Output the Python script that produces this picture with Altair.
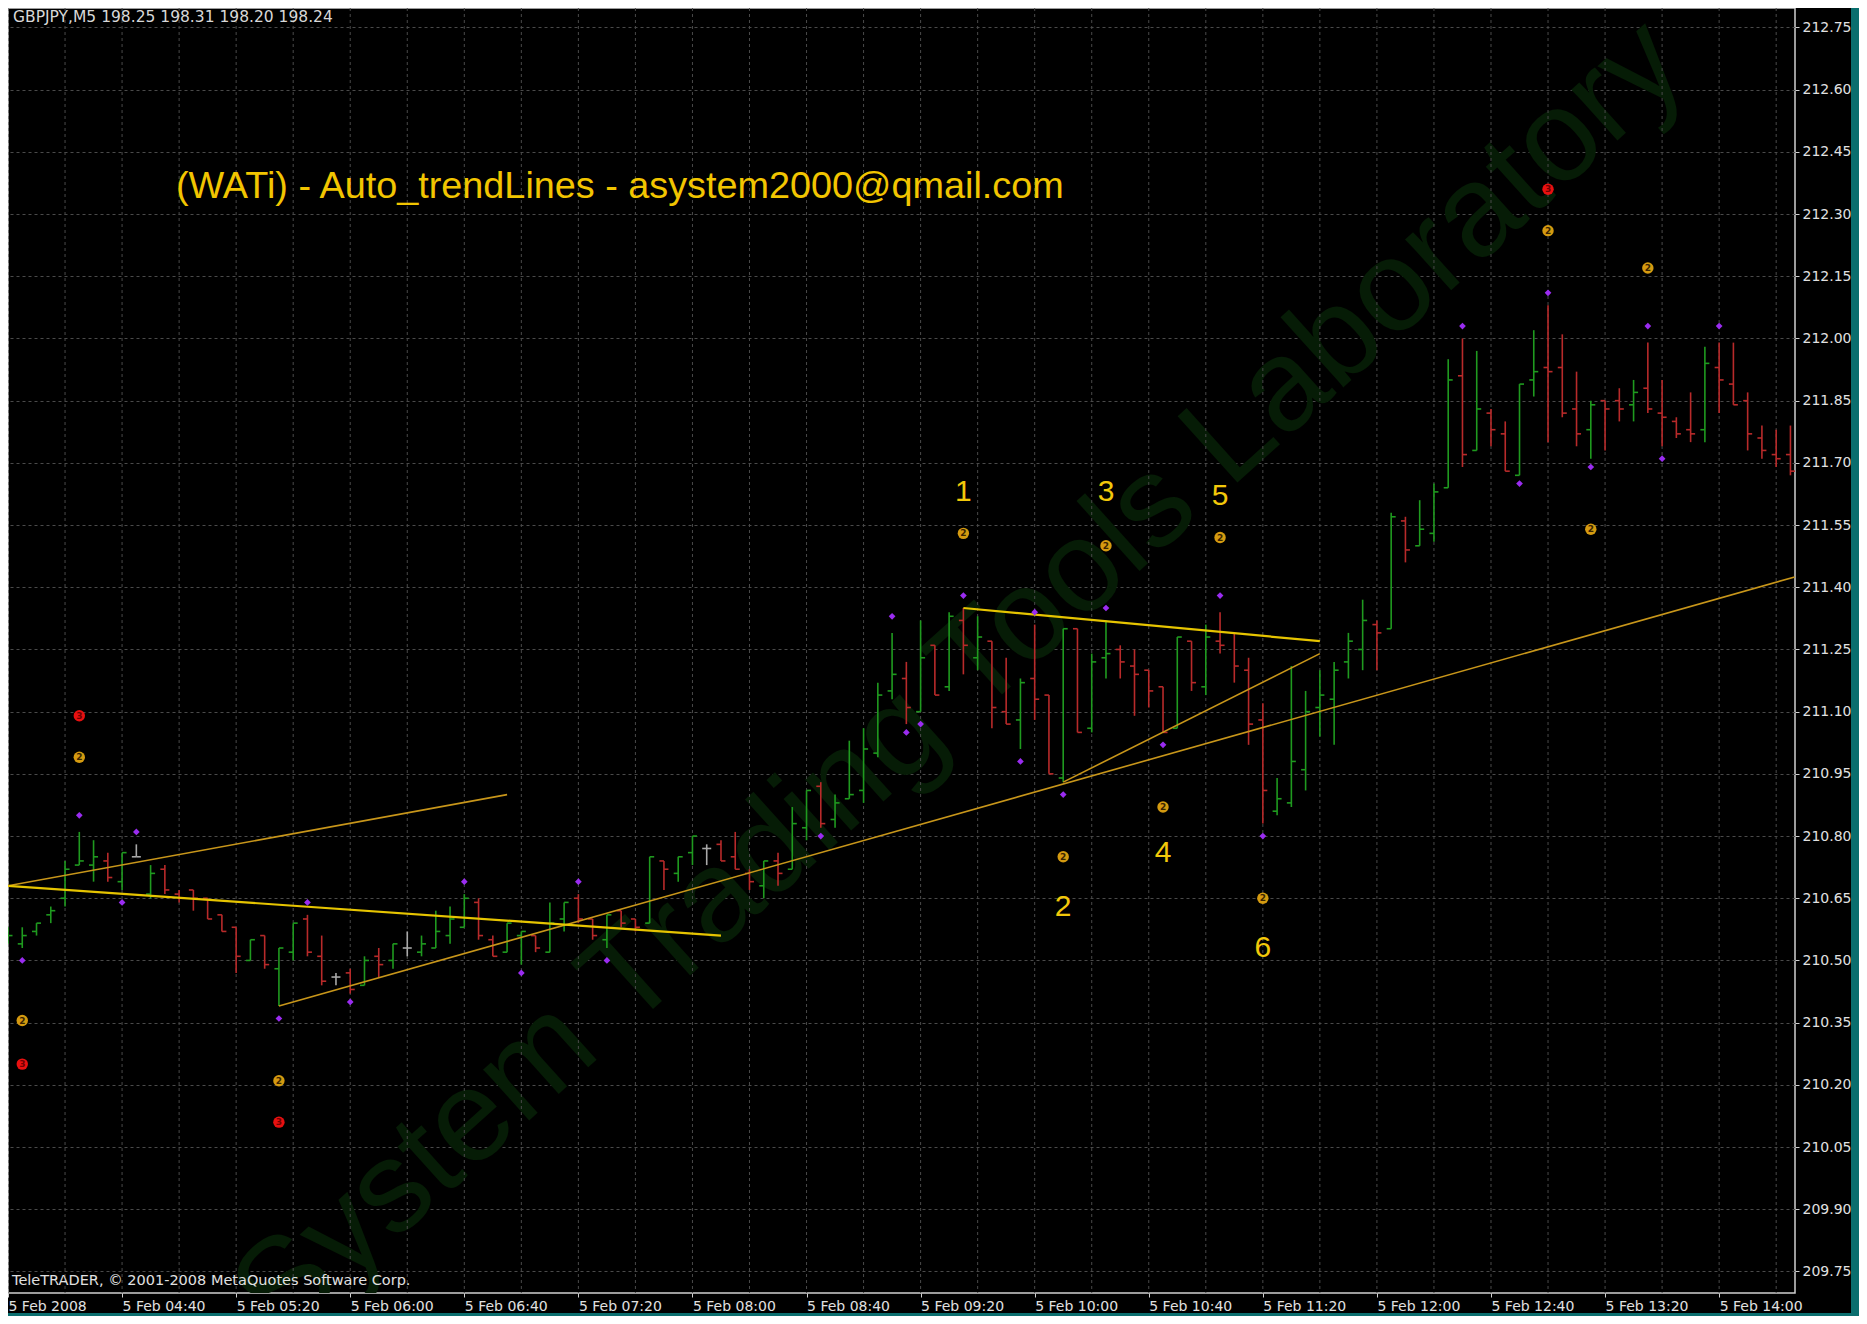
import altair as alt
import pandas as pd
import numpy as np

# ---------------- data (GBPJPY M5, 5 Feb 2008 04:00 .. 14:25) ----------------
open_ = [210.55, 210.54, 210.57, 210.61, 210.65, 210.73, 210.73, 210.74, 210.69, 210.75,
         210.66, 210.72, 210.66, 210.67, 210.65, 210.61, 210.58, 210.50, 210.56, 210.48,
         210.52, 210.60, 210.51, 210.46, 210.47, 210.44, 210.51, 210.50, 210.53, 210.52,
         210.53, 210.56, 210.58, 210.64, 210.55, 210.52, 210.56, 210.56, 210.52, 210.60,
         210.65, 210.60, 210.55, 210.62, 210.60, 210.59, 210.74, 210.71, 210.76, 210.77,
         210.78, 210.75, 210.71, 210.68, 210.74, 210.72, 210.82, 210.92, 210.84, 210.89,
         210.91, 211.00, 211.15, 211.18, 211.10, 211.26, 211.16, 211.32, 211.23, 211.27,
         211.10, 211.08, 211.18, 211.14, 210.94, 211.30, 211.06, 211.23, 211.25, 211.21,
         211.20, 211.16, 211.06, 211.27, 211.16, 211.27, 211.29, 211.20, 211.08, 210.86,
         210.88, 210.96, 211.11, 211.13, 211.22, 211.25, 211.31, 211.30, 211.56, 211.50,
         211.53, 211.64, 211.91, 211.73, 211.82, 211.77, 211.67, 211.90, 211.93, 211.93,
         211.83, 211.78, 211.85, 211.85, 211.84, 211.88, 211.82, 211.80, 211.78, 211.78,
         211.93, 211.89, 211.85, 211.76, 211.72, 211.72]
high = [210.58, 210.58, 210.59, 210.63, 210.74, 210.81, 210.79, 210.76, 210.76, 210.78,
        210.73, 210.73, 210.67, 210.67, 210.65, 210.61, 210.58, 210.55, 210.56, 210.53,
        210.59, 210.61, 210.56, 210.47, 210.48, 210.51, 210.53, 210.54, 210.57, 210.56,
        210.62, 210.63, 210.66, 210.65, 210.56, 210.59, 210.57, 210.56, 210.64, 210.64,
        210.66, 210.60, 210.61, 210.62, 210.60, 210.75, 210.74, 210.75, 210.80, 210.78,
        210.79, 210.81, 210.72, 210.74, 210.76, 210.87, 210.91, 210.93, 210.90, 211.03,
        211.06, 211.17, 211.29, 211.22, 211.32, 211.26, 211.34, 211.35, 211.33, 211.27,
        211.23, 211.18, 211.31, 211.14, 211.30, 211.30, 211.24, 211.32, 211.26, 211.25,
        211.20, 211.16, 211.28, 211.27, 211.31, 211.34, 211.29, 211.23, 211.12, 210.94,
        211.21, 211.15, 211.20, 211.22, 211.29, 211.37, 211.32, 211.58, 211.57, 211.61,
        211.65, 211.95, 212.00, 211.97, 211.83, 211.80, 211.89, 212.02, 212.08, 212.01,
        211.92, 211.85, 211.85, 211.88, 211.90, 211.99, 211.90, 211.81, 211.87, 211.98,
        211.99, 211.99, 211.87, 211.79, 211.78, 211.79]
low = [210.54, 210.53, 210.56, 210.59, 210.63, 210.73, 210.69, 210.69, 210.67, 210.75,
       210.65, 210.66, 210.64, 210.62, 210.60, 210.57, 210.47, 210.50, 210.48, 210.39,
       210.50, 210.51, 210.44, 210.44, 210.42, 210.44, 210.46, 210.48, 210.51, 210.51,
       210.53, 210.54, 210.58, 210.55, 210.51, 210.52, 210.49, 210.52, 210.52, 210.57,
       210.59, 210.55, 210.53, 210.58, 210.57, 210.59, 210.67, 210.69, 210.73, 210.73,
       210.74, 210.72, 210.67, 210.65, 210.68, 210.72, 210.79, 210.82, 210.82, 210.89,
       210.88, 210.99, 211.13, 211.07, 211.10, 211.14, 211.15, 211.19, 211.20, 211.06,
       211.07, 211.01, 211.08, 210.95, 210.93, 211.05, 211.05, 211.18, 211.18, 211.09,
       211.11, 211.05, 211.06, 211.15, 211.14, 211.24, 211.17, 211.02, 210.83, 210.85,
       210.87, 210.91, 211.04, 211.02, 211.18, 211.20, 211.20, 211.30, 211.46, 211.50,
       211.51, 211.64, 211.69, 211.73, 211.74, 211.68, 211.67, 211.86, 211.75, 211.81,
       211.74, 211.71, 211.73, 211.80, 211.80, 211.82, 211.74, 211.76, 211.75, 211.75,
       211.82, 211.84, 211.73, 211.71, 211.69, 211.67]
close = [210.56, 210.56, 210.59, 210.62, 210.72, 210.74, 210.75, 210.70, 210.76, 210.75,
         210.71, 210.67, 210.65, 210.65, 210.60, 210.57, 210.51, 210.55, 210.49, 210.53,
         210.59, 210.52, 210.45, 210.46, 210.43, 210.50, 210.49, 210.54, 210.53, 210.54,
         210.57, 210.60, 210.65, 210.56, 210.51, 210.59, 210.57, 210.53, 210.59, 210.64,
         210.60, 210.56, 210.61, 210.59, 210.58, 210.75, 210.72, 210.75, 210.80, 210.77,
         210.74, 210.72, 210.69, 210.74, 210.71, 210.83, 210.91, 210.83, 210.88, 210.90,
         211.01, 211.14, 211.19, 211.11, 211.23, 211.14, 211.33, 211.26, 211.28, 211.11,
         211.07, 211.17, 211.13, 210.95, 211.30, 211.05, 211.22, 211.24, 211.22, 211.19,
         211.15, 211.05, 211.28, 211.17, 211.28, 211.26, 211.21, 211.07, 210.91, 210.89,
         210.98, 211.10, 211.14, 211.20, 211.27, 211.32, 211.29, 211.57, 211.49, 211.54,
         211.63, 211.90, 211.72, 211.83, 211.78, 211.68, 211.89, 211.92, 211.92, 211.82,
         211.77, 211.84, 211.83, 211.83, 211.87, 211.83, 211.81, 211.77, 211.77, 211.94,
         211.90, 211.84, 211.77, 211.73, 211.71, 211.68]
bar_index = list(range(len(open_)))

y_tick_values = [209.75, 209.90, 210.05, 210.20, 210.35, 210.50, 210.65, 210.80, 210.95, 211.10,
                 211.25, 211.40, 211.55, 211.70, 211.85, 212.00, 212.15, 212.30, 212.45, 212.60, 212.75]
x_tick_bars = [0, 8, 16, 24, 32, 40, 48, 56, 64, 72, 80, 88, 96, 104, 112, 120]
x_tick_labels = ["5 Feb 2008", "5 Feb 04:40", "5 Feb 05:20", "5 Feb 06:00", "5 Feb 06:40",
                 "5 Feb 07:20", "5 Feb 08:00", "5 Feb 08:40", "5 Feb 09:20", "5 Feb 10:00",
                 "5 Feb 10:40", "5 Feb 11:20", "5 Feb 12:00", "5 Feb 12:40", "5 Feb 13:20",
                 "5 Feb 14:00"]
grid_bars = list(range(0, 126, 4))

fractal_bar = [1, 5, 8, 9, 19, 21, 24, 32, 36, 40, 42, 57, 62, 63, 64, 67, 71, 72, 74, 77,
               81, 85, 88, 102, 106, 108, 111, 115, 116, 120]
fractal_price = [210.50, 210.85, 210.64, 210.81, 210.36, 210.64, 210.40, 210.69, 210.47, 210.69,
                 210.50, 210.80, 211.33, 211.05, 211.07, 211.38, 210.98, 211.34, 210.90, 211.35,
                 211.02, 211.38, 210.80, 212.03, 211.65, 212.11, 211.69, 212.03, 211.71, 212.03]
level2_bar = [1, 5, 19, 67, 74, 77, 81, 85, 88, 108, 111, 115]
level2_price = [210.355, 210.99, 210.21, 211.53, 210.75, 211.50, 210.87, 211.52, 210.65, 212.26, 211.54, 212.17]
level3_bar = [1, 5, 19, 108]
level3_price = [210.25, 211.09, 210.11, 212.36]

wave_text = ["1", "2", "3", "4", "5", "6"]
wave_bar = [67, 74, 77, 81, 85, 88]
wave_price = [211.63, 210.63, 211.63, 210.76, 211.62, 210.53]

trend_name = ["A", "A", "B", "B", "C", "C", "D", "D", "E", "E"]
trend_kind = ["gold", "gold", "yellow", "yellow", "gold", "gold", "yellow", "yellow", "gold", "gold"]
trend_bar = [0, 35, 0, 50, 19, 125.3, 67, 92, 74, 92]
trend_price = [210.68, 210.90, 210.68, 210.56, 210.39, 211.425, 211.35, 211.27, 210.93, 211.24]

header_text = "GBPJPY,M5  198.25 198.31 198.20 198.24"
title_text = "(WATi) - Auto_trendLines - asystem2000@qmail.com"
footer_text = "TeleTRADER, \u00a9 2001-2008 MetaQuotes Software Corp."
watermark_text = "System Trading Tools Laboratory"

# ---------------- frames ----------------
df = pd.DataFrame({"i": bar_index, "o": open_, "h": high, "l": low, "c": close})
df["dir"] = np.where(df["c"] > df["o"], "up", np.where(df["c"] < df["o"], "down", "flat"))
frac = pd.DataFrame({"i": fractal_bar, "p": fractal_price})
lv2 = pd.DataFrame({"i": level2_bar, "p": level2_price, "t": ["2"] * len(level2_bar)})
lv3 = pd.DataFrame({"i": level3_bar, "p": level3_price, "t": ["3"] * len(level3_bar)})
waves = pd.DataFrame({"i": wave_bar, "p": wave_price, "t": wave_text})
trend = pd.DataFrame({"i": trend_bar, "p": trend_price, "name": trend_name, "kind": trend_kind})
grid = pd.DataFrame({"i": grid_bars})

W, H = 1787, 1285
xs = alt.Scale(domain=[0, 125.32], nice=False, zero=False)
ys = alt.Scale(domain=[209.698, 212.797], nice=False, zero=False)
col = alt.Color("dir:N", scale=alt.Scale(domain=["up", "down", "flat"],
                                         range=["#1f9a1f", "#b82a2a", "#a8a8a8"]), legend=None)

label_arr = "[" + ",".join("'%s'" % s for s in x_tick_labels) + "]"
x_axis = alt.Axis(values=x_tick_bars, labelExpr=label_arr + "[round(datum.value/8)]",
                  labelAlign="left", labelFlush=False, labelOverlap=False, labelColor="#e0e0e0",
                  labelFont="DejaVu Sans", labelFontSize=14, labelPadding=2, tickColor="#d0d0d0",
                  tickSize=4, domain=False, grid=False, title=None)
y_axis = alt.Axis(values=y_tick_values, format=".2f", orient="right", labelColor="#e0e0e0",
                  labelFont="DejaVu Sans", labelFontSize=14, labelPadding=3, tickColor="#d0d0d0",
                  tickSize=4, domain=False, grid=True, gridColor="#4a4a4a", gridDash=[3, 3],
                  gridWidth=1, title=None)

X = lambda f="i": alt.X(f + ":Q", scale=xs, title=None)
Y = lambda f="p": alt.Y(f + ":Q", scale=ys, title=None)

ann = lambda t: alt.Chart(pd.DataFrame({"t": [t]}))

watermark = ann(watermark_text).mark_text(
    font="Liberation Sans", fontSize=130, color="#061c06", angle=318, clip=True,
    align="center", baseline="middle").encode(x=alt.value(952), y=alt.value(672), text="t:N")

vgrid = alt.Chart(grid).mark_rule(color="#4a4a4a", strokeDash=[3, 3], strokeWidth=1).encode(
    x=X())

wicks = alt.Chart(df).mark_rule(strokeWidth=1.6).encode(
    x=alt.X("i:Q", scale=xs, axis=x_axis, title=None),
    y=alt.Y("l:Q", scale=ys, axis=y_axis, title=None),
    y2="h:Q", color=col)
opens = alt.Chart(df).mark_rule(strokeWidth=1.6, xOffset=-4.5).encode(
    x=X(), x2="i:Q", y=Y("o"), color=col)
closes = alt.Chart(df).mark_rule(strokeWidth=1.6, x2Offset=4.5).encode(
    x=X(), x2="i:Q", y=Y("c"), color=col)

gold_lines = alt.Chart(trend).transform_filter("datum.kind == 'gold'").mark_line(
    color="#c8961a", strokeWidth=1.6).encode(x=X(), y=Y(), detail="name:N")
yellow_lines = alt.Chart(trend).transform_filter("datum.kind == 'yellow'").mark_line(
    color="#e6c400", strokeWidth=2.2).encode(x=X(), y=Y(), detail="name:N")

diamonds = alt.Chart(frac).mark_point(shape="diamond", filled=True, size=45, color="#9a2cf0",
                                      opacity=1).encode(x=X(), y=Y())
c2 = alt.Chart(lv2).mark_circle(size=130, color="#d49a10", opacity=1).encode(x=X(), y=Y())
t2 = alt.Chart(lv2).mark_text(fontSize=9, fontWeight="bold", color="#3a2400",
                              font="DejaVu Sans").encode(x=X(), y=Y(), text="t:N")
c3 = alt.Chart(lv3).mark_circle(size=130, color="#e81010", opacity=1).encode(x=X(), y=Y())
t3 = alt.Chart(lv3).mark_text(fontSize=9, fontWeight="bold", color="#700000",
                              font="DejaVu Sans").encode(x=X(), y=Y(), text="t:N")
wave_labels = alt.Chart(waves).mark_text(font="Liberation Sans", fontSize=30,
                                         color="#f2c80a").encode(x=X(), y=Y(), text="t:N")

header = ann(header_text).mark_text(font="DejaVu Sans", fontSize=15.5, color="#d8d8d8",
                                    align="left", baseline="middle").encode(
    x=alt.value(5), y=alt.value(9), text="t:N")
title = ann(title_text).mark_text(font="Liberation Sans", fontSize=37.8, color="#f2c500",
                                  align="left", baseline="middle").encode(
    x=alt.value(168), y=alt.value(179), text="t:N")
footer = ann(footer_text).mark_text(font="DejaVu Sans", fontSize=14.5, color="#e0e0e0",
                                    align="left", baseline="middle").encode(
    x=alt.value(4), y=alt.value(1273), text="t:N")

teal_r = ann("r").mark_rect(color="#0a6e6e").encode(
    x=alt.value(1843), x2=alt.value(1870), y=alt.value(-10), y2=alt.value(1320))
teal_b = ann("b").mark_rect(color="#0a6e6e").encode(
    x=alt.value(-10), x2=alt.value(1870), y=alt.value(1305), y2=alt.value(1320))

chart = alt.layer(
    watermark, vgrid, wicks, opens, closes, gold_lines, yellow_lines,
    diamonds, c2, t2, c3, t3, wave_labels, header, title, footer, teal_r, teal_b
).properties(
    width=W, height=H,
    padding={"left": 0, "top": 0, "right": 64, "bottom": 23},
    autosize=alt.AutoSizeParams(type="none"),
).configure(background="black").configure_view(fill="black", stroke="#d0d0d0", strokeWidth=1.5)

chart.save("out.html", embed_options={"renderer": "svg", "actions": False})
